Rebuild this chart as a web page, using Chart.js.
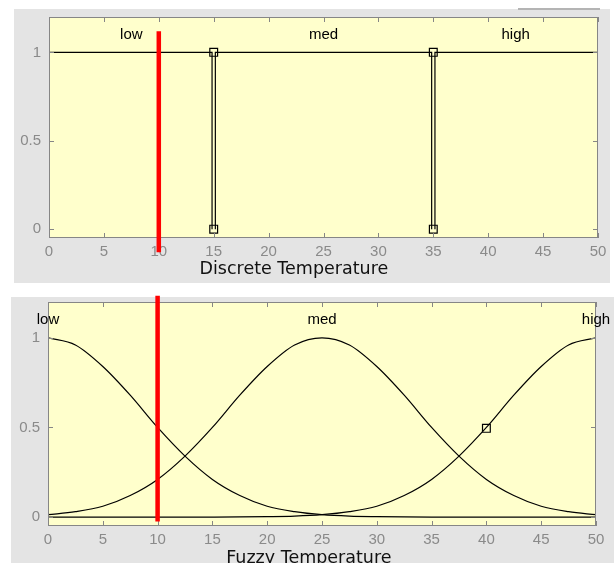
<!DOCTYPE html>
<html><head><meta charset="utf-8">
<script src="https://cdn.jsdelivr.net/npm/chart.js@4/dist/chart.umd.min.js"></script>
<style>
html,body{margin:0;padding:0;background:#fff;width:614px;height:563px;overflow:hidden;position:relative}
.panel{position:absolute;background:#e4e4e4}
canvas{position:absolute;left:0}
</style></head><body>
<div class="panel" style="left:14px;top:9px;width:596px;height:274px"></div>
<div style="position:absolute;left:518px;top:8px;width:82px;height:2px;background:#b4b4b4"></div>
<div class="panel" style="left:11px;top:297px;width:603px;height:266px"></div>
<canvas id="c1" width="614" height="285" style="top:0"></canvas>
<canvas id="c2" width="614" height="278" style="top:285px"></canvas>
<script>
// ---------- data ----------
const xTicks = [0, 5, 10, 15, 20, 25, 30, 35, 40, 45, 50];
const yTicks = [0, 0.5, 1];
const memberNames = ['low', 'med', 'high'];

// Discrete Temperature (crisp sets)
const discreteLowX  = [0, 14.85, 14.85];
const discreteLowY  = [1, 1, 0];
const discreteMedX  = [15.15, 15.15, 34.85, 34.85];
const discreteMedY  = [0, 1, 1, 0];
const discreteHighX = [35.15, 35.15, 50];
const discreteHighY = [0, 1, 1];
const discretePointX = [15, 15, 35, 35];
const discretePointY = [1, 0, 1, 0];
const discreteLabelX = [7.5, 25, 42.5];

// Fuzzy Temperature (membership curves)
const fuzzyX    = [0, 2.5, 5, 7.5, 10, 12.5, 15, 17.5, 20, 22.5, 25, 27.5, 30, 32.5, 35, 37.5, 40, 42.5, 45, 47.5, 50];
const fuzzyLow  = [1.00, 0.96, 0.84, 0.68, 0.50, 0.34, 0.21, 0.12, 0.06, 0.03, 0.013, 0.005, 0.002, 0.0005, 0, 0, 0, 0, 0, 0, 0];
const fuzzyMed  = [0.013, 0.03, 0.06, 0.12, 0.21, 0.34, 0.50, 0.68, 0.84, 0.96, 1.00, 0.96, 0.84, 0.68, 0.50, 0.34, 0.21, 0.12, 0.06, 0.03, 0.013];
const fuzzyHigh = [0, 0, 0, 0, 0, 0, 0, 0.0005, 0.002, 0.005, 0.013, 0.03, 0.06, 0.12, 0.21, 0.34, 0.50, 0.68, 0.84, 0.96, 1.00];
const fuzzyPointX = [40];
const fuzzyPointY = [0.495];
const fuzzyLabelX = [0, 25, 50];

// crisp input marker (red line)
const inputValue = 10;
const inputSpanDiscrete = [1.12, -0.13];
const inputSpanFuzzy = [1.235, -0.025];
const labelLevel = 1.075;

// ---------- helpers ----------
const pts = (xs, ys) => xs.map((x, i) => ({x, y: ys[i]}));
const tickFont = {family: '"Liberation Sans", Arial, sans-serif', size: 15};

const decor = {
  id: 'decor',
  beforeDraw(chart) {
    const {ctx, chartArea: a} = chart;
    ctx.save();
    ctx.fillStyle = '#ffffcc';
    ctx.fillRect(a.left, a.top, a.right - a.left, a.bottom - a.top);
    ctx.restore();
  },
  beforeDatasetDraw(chart, args) {
    if (args.index !== 0) return;
    const {ctx, chartArea: a, scales: {x, y}} = chart;
    ctx.save();
    ctx.strokeStyle = '#868686';
    ctx.lineWidth = 1;
    ctx.strokeRect(a.left + 0.5, a.top + 0.5, a.right - a.left - 1, a.bottom - a.top - 1);
    ctx.beginPath();
    xTicks.forEach(v => {
      const px = Math.round(x.getPixelForValue(v)) + 0.5;
      ctx.moveTo(px, a.top); ctx.lineTo(px, a.top + 5);
      ctx.moveTo(px, a.bottom); ctx.lineTo(px, a.bottom - 5);
    });
    yTicks.forEach(v => {
      const py = Math.round(y.getPixelForValue(v)) + 0.5;
      ctx.moveTo(a.left, py); ctx.lineTo(a.left + 5, py);
      ctx.moveTo(a.right, py); ctx.lineTo(a.right - 5, py);
    });
    ctx.stroke();
    ctx.restore();
  },
  afterDraw(chart, args, opts) {
    const {ctx, chartArea: a, scales: {x, y}} = chart;
    ctx.save();
    ctx.fillStyle = '#000';
    ctx.textAlign = 'center';
    ctx.textBaseline = 'alphabetic';
    ctx.font = '15px "Liberation Sans", Arial, sans-serif';
    memberNames.forEach((n, i) => {
      ctx.fillText(n, x.getPixelForValue(opts.labelX[i]), y.getPixelForValue(labelLevel));
    });
    ctx.fillStyle = '#111';
    ctx.font = '17.5px "DejaVu Sans", sans-serif';
    ctx.fillText(opts.title, x.getPixelForValue(opts.titleX), a.bottom + opts.titleDy);
    ctx.restore();
  }
};

function makeChart(id, datasets, o) {
  return new Chart(document.getElementById(id), {
    type: 'scatter',
    data: {datasets},
    options: {
      responsive: false,
      animation: false,
      events: [],
      layout: {padding: {left: 0, top: o.padTop, right: o.padRight, bottom: 0}},
      plugins: {
        legend: {display: false},
        tooltip: {enabled: false},
        decor: {labelX: o.labelX, title: o.title, titleX: o.titleX, titleDy: o.titleDy}
      },
      scales: {
        x: {
          type: 'linear', min: 0, max: 50,
          afterBuildTicks: s => { s.ticks = xTicks.map(v => ({value: v})); },
          afterFit: s => { s.height = o.xHeight; },
          grid: {display: false, drawTicks: false},
          border: {display: false},
          ticks: {padding: 5, color: '#8a8a8a', font: tickFont, maxRotation: 0, autoSkip: false, callback: v => String(v)}
        },
        y: {
          type: 'linear', min: -0.05, max: 1.2,
          afterBuildTicks: s => { s.ticks = yTicks.map(v => ({value: v})); },
          afterFit: s => { s.width = o.yWidth; },
          grid: {display: false, drawTicks: false},
          border: {display: false},
          ticks: {padding: 8, color: '#8a8a8a', font: tickFont, callback: v => String(v)}
        }
      }
    },
    plugins: [decor]
  });
}

const blackLine = {showLine: true, borderColor: '#000', borderWidth: 1.2, pointRadius: 0, fill: false};
const redLine = {showLine: true, borderColor: '#ff0000', borderWidth: 4.5, pointRadius: 0, clip: false};
const squares = {showLine: false, pointStyle: 'rect', pointRadius: 5.5, pointBorderColor: '#000', pointBackgroundColor: 'rgba(0,0,0,0)', pointBorderWidth: 1.2};

makeChart('c1', [
  Object.assign({data: pts([inputValue, inputValue], inputSpanDiscrete)}, redLine),
  Object.assign({data: pts(discreteLowX, discreteLowY)}, blackLine),
  Object.assign({data: pts(discreteMedX, discreteMedY)}, blackLine),
  Object.assign({data: pts(discreteHighX, discreteHighY)}, blackLine),
  Object.assign({data: pts(discretePointX, discretePointY)}, squares)
], {padTop: 13, padRight: 16, xHeight: 47, yWidth: 49, labelX: discreteLabelX,
    title: 'Discrete Temperature', titleX: 22.3, titleDy: 36});

const curve = Object.assign({}, blackLine, {cubicInterpolationMode: 'monotone'});
makeChart('c2', [
  Object.assign({data: pts([inputValue, inputValue], inputSpanFuzzy)}, redLine),
  Object.assign({data: pts(fuzzyX, fuzzyLow)}, curve),
  Object.assign({data: pts(fuzzyX, fuzzyMed)}, curve),
  Object.assign({data: pts(fuzzyX, fuzzyHigh)}, curve),
  Object.assign({data: pts(fuzzyPointX, fuzzyPointY)}, squares)
], {padTop: 16, padRight: 18, xHeight: 37, yWidth: 48, labelX: fuzzyLabelX,
    title: 'Fuzzy Temperature', titleX: 23.8, titleDy: 37});
</script>
</body></html>
